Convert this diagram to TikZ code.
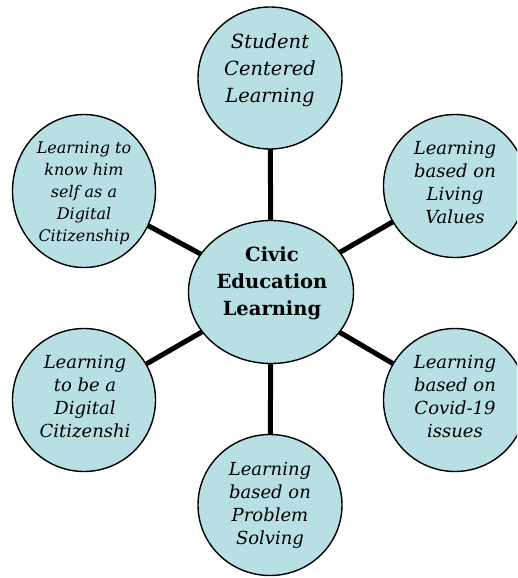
\documentclass[tikz,border=0pt]{standalone}
\usepackage{fontspec}
\setmainfont{DejaVu Serif}
\usetikzlibrary{shapes.geometric,backgrounds}
\definecolor{bub}{HTML}{B8DFE3}
\begin{document}
\begin{tikzpicture}[x=1pt,y=-1pt,
  bubble/.style={ellipse,draw=black,line width=1.4pt,fill=bub,inner sep=0pt},
  lbl/.style={align=center,inner sep=0pt,font=\itshape\fontsize{18}{23}\selectfont},
  link/.style={line width=5pt}]
\useasboundingbox (0,0) rectangle (517,578);
\clip (0,0) rectangle (517,578);
% bubbles
\node[bubble,minimum width=144pt,minimum height=142pt] (top) at (270,78) {};
\node[bubble,minimum width=143pt,minimum height=153pt] (ul) at (84,191) {};
\node[bubble,minimum width=143pt,minimum height=143pt] (ur) at (455,186) {};
\node[bubble,minimum width=165pt,minimum height=143pt] (cen) at (271,292) {};
\node[bubble,minimum width=143pt,minimum height=143pt] (ll) at (84,400) {};
\node[bubble,minimum width=143pt,minimum height=143pt] (lr) at (455,400) {};
\node[bubble,minimum width=144pt,minimum height=141pt] (bot) at (270,505) {};
% labels
\node[lbl,font=\itshape\fontsize{19.5}{27}\selectfont] (topT) at (270,70) {Student\\Centered\\Learning};
\node[lbl,font=\itshape\fontsize{16}{22}\selectfont] (ulT) at (84,193) {Learning to\\know him\\self as a\\Digital\\Citizenship};
\node[lbl] (urT) at (455,183) {Learning\\based on\\Living\\Values};
\node[lbl,font=\bfseries\fontsize{19.5}{27}\selectfont] (cenT) at (272,283) {Civic\\Education\\Learning};
\node[lbl] (llT) at (85,397) {Learning\\to be a\\Digital\\Citizenshi};
\node[lbl] (lrT) at (455,397) {Learning\\based on\\Covid-19\\issues};
\node[lbl] (botT) at (270,505) {Learning\\based on\\Problem\\Solving};
% connectors
\begin{pgfonlayer}{background}
\foreach \n in {top,ul,ur,ll,lr,bot}
  \draw[link] (cen.center) -- (\n.center);
\end{pgfonlayer}
\end{tikzpicture}
\end{document}
